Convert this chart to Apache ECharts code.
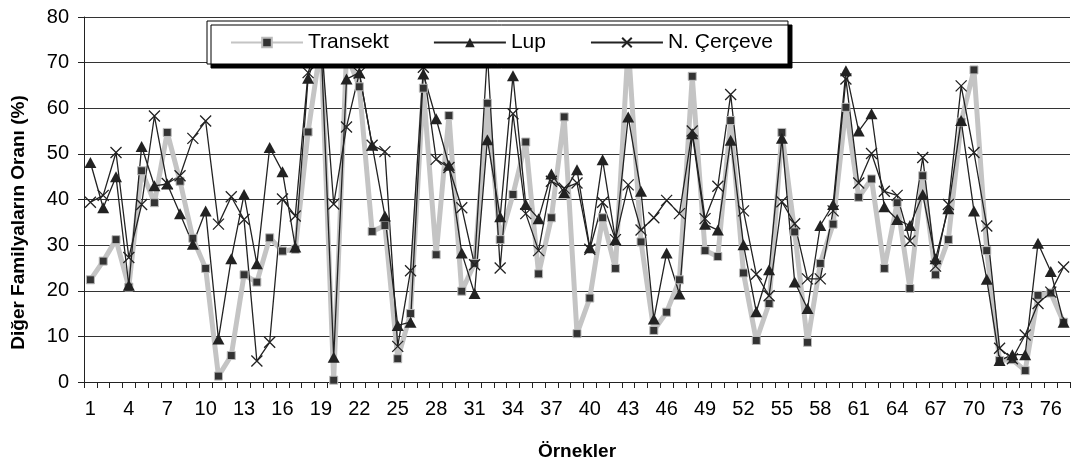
<!DOCTYPE html>
<html>
<head>
<meta charset="utf-8">
<script src="https://cdn.jsdelivr.net/npm/echarts@6/dist/echarts.min.js"></script>
<style>
  html, body { margin: 0; padding: 0; background: #fff; }
  #root { width: 1071px; height: 466px; }
</style>
</head>
<body>
<div id="root"></div>
<script>
// örnek numaraları 1..77
const samples = [];
for (let i = 1; i <= 77; i++) samples.push(String(i));

const transekt = [
  22.4, 26.5, 31.2, 20.8, 46.3, 39.3, 54.7, 44.0, 31.5, 24.9,
  1.3, 5.8, 23.5, 21.9, 31.6, 28.7, 29.1, 54.8, 74, 0.4,
  72, 64.7, 33.0, 34.3, 5.1, 15.0, 64.4, 27.9, 58.4, 19.9,
  26.0, 61.1, 31.2, 41.1, 52.6, 23.7, 36.0, 58.1, 10.6, 18.4,
  36.0, 24.9, 74, 30.7, 11.3, 15.3, 22.4, 67.0, 28.8, 27.5,
  57.3, 23.9, 9.1, 17.2, 54.7, 32.9, 8.7, 26.0, 34.6, 60.2,
  40.5, 44.5, 24.9, 39.3, 20.5, 45.2, 23.5, 31.2, 57.0, 68.4,
  28.8, 4.7, 4.9, 2.5, 19.0, 19.5, 13.1
];
const lup = [
  48.1, 38.2, 45.0, 21.2, 51.6, 43.0, 43.4, 36.9, 30.2, 37.5,
  9.4, 27.0, 41.1, 25.9, 51.4, 46.1, 29.6, 66.6, 75, 5.4,
  66.4, 67.8, 51.9, 36.4, 12.4, 13.1, 67.5, 57.7, 47.5, 28.3,
  19.4, 53.1, 36.2, 67.1, 38.9, 35.8, 45.6, 41.5, 46.5, 29.4,
  48.7, 31.2, 58.1, 41.8, 13.8, 28.3, 19.3, 54.4, 34.6, 33.3,
  53.0, 30.1, 15.4, 24.6, 53.4, 21.9, 16.1, 34.3, 38.9, 68.2,
  55.0, 58.8, 38.4, 35.6, 34.3, 41.1, 27.0, 38.0, 57.3, 37.5,
  22.5, 4.7, 6.0, 6.0, 30.4, 24.2, 13.1
];
const cerceve = [
  39.4, 40.9, 50.3, 27.3, 38.9, 58.3, 43.5, 45.2, 53.4, 57.2,
  34.6, 40.6, 35.6, 4.6, 8.7, 40.1, 36.4, 67.8, 76, 39.0,
  55.9, 67.7, 51.9, 50.5, 7.8, 24.4, 69, 48.8, 47.0, 38.2,
  25.7, 72, 25.0, 58.8, 36.9, 28.8, 44.0, 42.5, 43.6, 29.1,
  39.4, 31.2, 43.2, 33.3, 36.0, 39.8, 36.9, 55, 35.8, 42.9,
  63.0, 37.5, 23.6, 18.9, 39.5, 34.7, 22.6, 22.6, 37.5, 66.4,
  43.6, 50.1, 41.8, 40.9, 30.9, 49.2, 25.4, 38.9, 64.9, 50.3,
  34.2, 7.4, 5.1, 10.3, 17.2, 19.7, 25.2
];
const seriesNames = ['Transekt', 'Lup', 'N. Çerçeve'];

const FONT = 'Liberation Sans';
const DARK = '#222';
const crossPath = 'path://M0,0L10,10M10,0L0,10';

const chart = echarts.init(document.getElementById('root'), null, { renderer: 'canvas' });

chart.setOption({
  animation: false,
  textStyle: { fontFamily: FONT, color: '#000' },
  grid: { left: 84, right: 1, top: 17, bottom: 80, containLabel: false },
  legend: {
    data: seriesNames,
    z: 50,
    left: 207,
    top: 21,
    padding: [11, 15, 11, 23],
    itemGap: 44,
    itemWidth: 72,
    itemHeight: 12,
    backgroundColor: '#fff',
    borderColor: '#000',
    borderWidth: 1,
    shadowColor: '#000',
    shadowBlur: 0,
    shadowOffsetX: 4,
    shadowOffsetY: 4,
    textStyle: { fontFamily: FONT, fontSize: 21, color: '#000' }
  },
  xAxis: {
    type: 'category',
    data: samples,
    boundaryGap: true,
    name: 'Örnekler',
    nameLocation: 'middle',
    nameGap: 60,
    nameTextStyle: { fontFamily: FONT, fontSize: 19, fontWeight: 'bold', color: '#000' },
    axisLine: { lineStyle: { color: DARK, width: 1 } },
    axisTick: { show: true, interval: 0, length: 6, lineStyle: { color: DARK } },
    axisLabel: { interval: 2, fontSize: 20, color: '#000', margin: 17, fontFamily: FONT },
    splitLine: { show: false }
  },
  yAxis: {
    type: 'value',
    min: 0,
    max: 80,
    interval: 10,
    name: 'Diğer Familyaların Oranı (%)',
    nameLocation: 'middle',
    nameGap: 56,
    nameRotate: 90,
    nameTextStyle: {
      fontFamily: FONT, fontSize: 19, fontWeight: 'bold', color: '#000',
      padding: [0, 46, 0, 0]
    },
    axisLine: { show: true, lineStyle: { color: DARK, width: 1 } },
    axisTick: { show: true, length: 6, lineStyle: { color: DARK } },
    axisLabel: { fontSize: 20, color: '#000', margin: 15, fontFamily: FONT },
    splitLine: { show: true, lineStyle: { color: '#333', width: 1 } }
  },
  series: [
    {
      name: seriesNames[0],
      type: 'line',
      data: transekt,
      z: 2,
      symbol: 'rect',
      symbolSize: 8,
      showAllSymbol: true,
      lineStyle: { color: '#c4c4c4', width: 5 },
      itemStyle: { color: '#333', borderColor: '#bbb', borderWidth: 1 }
    },
    {
      name: seriesNames[1],
      type: 'line',
      data: lup,
      z: 2,
      symbol: 'triangle',
      symbolSize: [12, 11],
      showAllSymbol: true,
      lineStyle: { color: DARK, width: 1.3 },
      itemStyle: { color: DARK, borderColor: DARK, borderWidth: 0 }
    },
    {
      name: seriesNames[2],
      type: 'line',
      data: cerceve,
      z: 2,
      symbol: crossPath,
      symbolSize: 11,
      showAllSymbol: true,
      lineStyle: { color: DARK, width: 1.3 },
      itemStyle: { color: 'none', borderColor: DARK, borderWidth: 1.3 }
    }
  ]
});
</script>
</body>
</html>
